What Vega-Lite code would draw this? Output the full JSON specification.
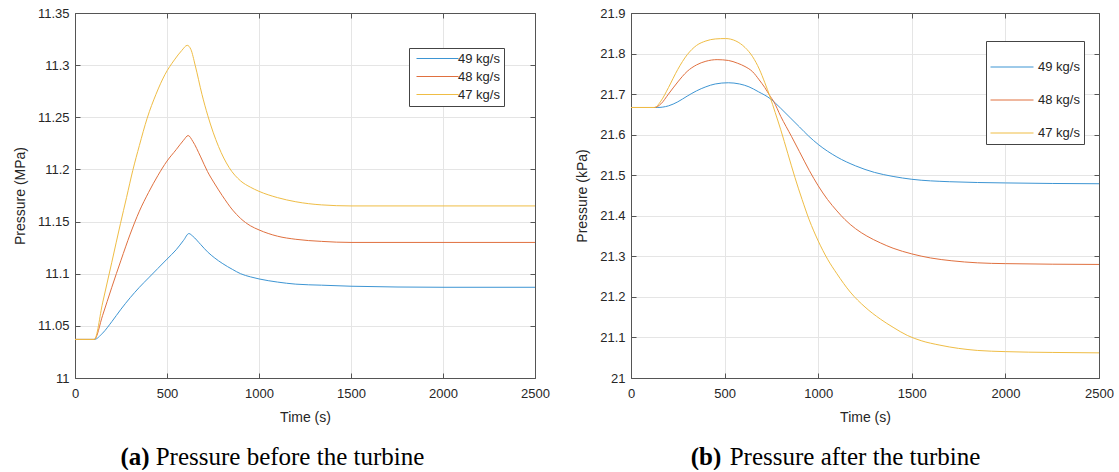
{
  "$schema": "https://vega.github.io/schema/vega-lite/v6.json",
  "padding": {"left": 13, "top": 7, "right": 0, "bottom": 0},
  "config": {
    "font": "Liberation Sans",
    "view": {"stroke": null},
    "axis": {
      "labelFont": "Liberation Sans", "labelFontSize": 13, "labelColor": "#262626",
      "titleFont": "Liberation Sans", "titleFontSize": 14, "titleFontWeight": "normal", "titleColor": "#262626",
      "domainColor": "#555555", "tickColor": "#555555", "tickSize": -5,
      "gridColor": "#e5e5e5", "labelFlush": false, "labelOverlap": false
    },
    "legend": {"labelFont": "Liberation Sans", "labelFontSize": 13, "labelColor": "#262626"}
  },
  "datasets": {
    "before": [
      {"t":0,"p":11.037,"s":"49 kg/s"},{"t":105,"p":11.037,"s":"49 kg/s"},{"t":150,"p":11.043,"s":"49 kg/s"},{"t":200,"p":11.054,"s":"49 kg/s"},{"t":250,"p":11.066,"s":"49 kg/s"},{"t":300,"p":11.077,"s":"49 kg/s"},{"t":350,"p":11.087,"s":"49 kg/s"},{"t":400,"p":11.096,"s":"49 kg/s"},{"t":450,"p":11.105,"s":"49 kg/s"},{"t":500,"p":11.114,"s":"49 kg/s"},{"t":550,"p":11.123,"s":"49 kg/s"},{"t":590,"p":11.132,"s":"49 kg/s"},{"t":619,"p":11.1385,"s":"49 kg/s"},{"t":640,"p":11.136,"s":"49 kg/s"},{"t":683,"p":11.128,"s":"49 kg/s"},{"t":720,"p":11.121,"s":"49 kg/s"},{"t":760,"p":11.115,"s":"49 kg/s"},{"t":800,"p":11.110,"s":"49 kg/s"},{"t":857,"p":11.104,"s":"49 kg/s"},{"t":900,"p":11.100,"s":"49 kg/s"},{"t":953,"p":11.097,"s":"49 kg/s"},{"t":1000,"p":11.095,"s":"49 kg/s"},{"t":1100,"p":11.092,"s":"49 kg/s"},{"t":1200,"p":11.090,"s":"49 kg/s"},{"t":1340,"p":11.089,"s":"49 kg/s"},{"t":1500,"p":11.088,"s":"49 kg/s"},{"t":2000,"p":11.087,"s":"49 kg/s"},{"t":2500,"p":11.087,"s":"49 kg/s"},
      {"t":0,"p":11.037,"s":"48 kg/s"},{"t":105,"p":11.037,"s":"48 kg/s"},{"t":150,"p":11.060,"s":"48 kg/s"},{"t":200,"p":11.087,"s":"48 kg/s"},{"t":250,"p":11.113,"s":"48 kg/s"},{"t":300,"p":11.138,"s":"48 kg/s"},{"t":350,"p":11.160,"s":"48 kg/s"},{"t":400,"p":11.178,"s":"48 kg/s"},{"t":450,"p":11.194,"s":"48 kg/s"},{"t":500,"p":11.208,"s":"48 kg/s"},{"t":550,"p":11.219,"s":"48 kg/s"},{"t":590,"p":11.228,"s":"48 kg/s"},{"t":615,"p":11.2325,"s":"48 kg/s"},{"t":640,"p":11.227,"s":"48 kg/s"},{"t":683,"p":11.212,"s":"48 kg/s"},{"t":720,"p":11.198,"s":"48 kg/s"},{"t":760,"p":11.186,"s":"48 kg/s"},{"t":800,"p":11.175,"s":"48 kg/s"},{"t":857,"p":11.161,"s":"48 kg/s"},{"t":900,"p":11.153,"s":"48 kg/s"},{"t":953,"p":11.146,"s":"48 kg/s"},{"t":1000,"p":11.142,"s":"48 kg/s"},{"t":1100,"p":11.136,"s":"48 kg/s"},{"t":1200,"p":11.133,"s":"48 kg/s"},{"t":1340,"p":11.131,"s":"48 kg/s"},{"t":1500,"p":11.130,"s":"48 kg/s"},{"t":2000,"p":11.130,"s":"48 kg/s"},{"t":2500,"p":11.130,"s":"48 kg/s"},
      {"t":0,"p":11.037,"s":"47 kg/s"},{"t":105,"p":11.037,"s":"47 kg/s"},{"t":150,"p":11.072,"s":"47 kg/s"},{"t":200,"p":11.111,"s":"47 kg/s"},{"t":247,"p":11.148,"s":"47 kg/s"},{"t":280,"p":11.173,"s":"47 kg/s"},{"t":314,"p":11.199,"s":"47 kg/s"},{"t":350,"p":11.223,"s":"47 kg/s"},{"t":392,"p":11.249,"s":"47 kg/s"},{"t":440,"p":11.272,"s":"47 kg/s"},{"t":489,"p":11.291,"s":"47 kg/s"},{"t":540,"p":11.305,"s":"47 kg/s"},{"t":580,"p":11.314,"s":"47 kg/s"},{"t":610,"p":11.319,"s":"47 kg/s"},{"t":630,"p":11.315,"s":"47 kg/s"},{"t":653,"p":11.300,"s":"47 kg/s"},{"t":690,"p":11.272,"s":"47 kg/s"},{"t":721,"p":11.252,"s":"47 kg/s"},{"t":780,"p":11.222,"s":"47 kg/s"},{"t":837,"p":11.202,"s":"47 kg/s"},{"t":900,"p":11.189,"s":"47 kg/s"},{"t":953,"p":11.183,"s":"47 kg/s"},{"t":1000,"p":11.179,"s":"47 kg/s"},{"t":1100,"p":11.173,"s":"47 kg/s"},{"t":1200,"p":11.169,"s":"47 kg/s"},{"t":1340,"p":11.166,"s":"47 kg/s"},{"t":1500,"p":11.165,"s":"47 kg/s"},{"t":2000,"p":11.165,"s":"47 kg/s"},{"t":2500,"p":11.165,"s":"47 kg/s"}
    ],
    "after": [
      {"t":0,"p":21.667,"s":"49 kg/s"},{"t":140,"p":21.667,"s":"49 kg/s"},{"t":200,"p":21.671,"s":"49 kg/s"},{"t":250,"p":21.681,"s":"49 kg/s"},{"t":300,"p":21.695,"s":"49 kg/s"},{"t":350,"p":21.708,"s":"49 kg/s"},{"t":400,"p":21.718,"s":"49 kg/s"},{"t":450,"p":21.725,"s":"49 kg/s"},{"t":520,"p":21.728,"s":"49 kg/s"},{"t":580,"p":21.725,"s":"49 kg/s"},{"t":630,"p":21.718,"s":"49 kg/s"},{"t":680,"p":21.706,"s":"49 kg/s"},{"t":743,"p":21.689,"s":"49 kg/s"},{"t":800,"p":21.665,"s":"49 kg/s"},{"t":850,"p":21.642,"s":"49 kg/s"},{"t":900,"p":21.619,"s":"49 kg/s"},{"t":950,"p":21.596,"s":"49 kg/s"},{"t":1000,"p":21.576,"s":"49 kg/s"},{"t":1100,"p":21.545,"s":"49 kg/s"},{"t":1200,"p":21.523,"s":"49 kg/s"},{"t":1300,"p":21.507,"s":"49 kg/s"},{"t":1400,"p":21.497,"s":"49 kg/s"},{"t":1500,"p":21.490,"s":"49 kg/s"},{"t":1700,"p":21.484,"s":"49 kg/s"},{"t":2000,"p":21.481,"s":"49 kg/s"},{"t":2500,"p":21.479,"s":"49 kg/s"},
      {"t":0,"p":21.667,"s":"48 kg/s"},{"t":125,"p":21.667,"s":"48 kg/s"},{"t":160,"p":21.676,"s":"48 kg/s"},{"t":200,"p":21.700,"s":"48 kg/s"},{"t":250,"p":21.730,"s":"48 kg/s"},{"t":300,"p":21.756,"s":"48 kg/s"},{"t":350,"p":21.772,"s":"48 kg/s"},{"t":400,"p":21.781,"s":"48 kg/s"},{"t":460,"p":21.785,"s":"48 kg/s"},{"t":520,"p":21.783,"s":"48 kg/s"},{"t":570,"p":21.776,"s":"48 kg/s"},{"t":609,"p":21.768,"s":"48 kg/s"},{"t":650,"p":21.755,"s":"48 kg/s"},{"t":685,"p":21.735,"s":"48 kg/s"},{"t":715,"p":21.716,"s":"48 kg/s"},{"t":743,"p":21.695,"s":"48 kg/s"},{"t":762,"p":21.682,"s":"48 kg/s"},{"t":800,"p":21.645,"s":"48 kg/s"},{"t":857,"p":21.596,"s":"48 kg/s"},{"t":900,"p":21.558,"s":"48 kg/s"},{"t":952,"p":21.512,"s":"48 kg/s"},{"t":1000,"p":21.474,"s":"48 kg/s"},{"t":1050,"p":21.440,"s":"48 kg/s"},{"t":1100,"p":21.412,"s":"48 kg/s"},{"t":1142,"p":21.391,"s":"48 kg/s"},{"t":1200,"p":21.368,"s":"48 kg/s"},{"t":1260,"p":21.350,"s":"48 kg/s"},{"t":1333,"p":21.333,"s":"48 kg/s"},{"t":1400,"p":21.320,"s":"48 kg/s"},{"t":1500,"p":21.306,"s":"48 kg/s"},{"t":1600,"p":21.296,"s":"48 kg/s"},{"t":1714,"p":21.289,"s":"48 kg/s"},{"t":1850,"p":21.284,"s":"48 kg/s"},{"t":2000,"p":21.282,"s":"48 kg/s"},{"t":2500,"p":21.280,"s":"48 kg/s"},
      {"t":0,"p":21.667,"s":"47 kg/s"},{"t":125,"p":21.667,"s":"47 kg/s"},{"t":160,"p":21.683,"s":"47 kg/s"},{"t":200,"p":21.716,"s":"47 kg/s"},{"t":250,"p":21.761,"s":"47 kg/s"},{"t":300,"p":21.797,"s":"47 kg/s"},{"t":350,"p":21.820,"s":"47 kg/s"},{"t":400,"p":21.831,"s":"47 kg/s"},{"t":450,"p":21.836,"s":"47 kg/s"},{"t":505,"p":21.837,"s":"47 kg/s"},{"t":560,"p":21.831,"s":"47 kg/s"},{"t":609,"p":21.815,"s":"47 kg/s"},{"t":650,"p":21.792,"s":"47 kg/s"},{"t":685,"p":21.762,"s":"47 kg/s"},{"t":715,"p":21.728,"s":"47 kg/s"},{"t":743,"p":21.693,"s":"47 kg/s"},{"t":770,"p":21.655,"s":"47 kg/s"},{"t":800,"p":21.612,"s":"47 kg/s"},{"t":838,"p":21.553,"s":"47 kg/s"},{"t":876,"p":21.494,"s":"47 kg/s"},{"t":914,"p":21.440,"s":"47 kg/s"},{"t":952,"p":21.390,"s":"47 kg/s"},{"t":1000,"p":21.338,"s":"47 kg/s"},{"t":1050,"p":21.293,"s":"47 kg/s"},{"t":1100,"p":21.257,"s":"47 kg/s"},{"t":1171,"p":21.212,"s":"47 kg/s"},{"t":1250,"p":21.175,"s":"47 kg/s"},{"t":1333,"p":21.145,"s":"47 kg/s"},{"t":1400,"p":21.125,"s":"47 kg/s"},{"t":1476,"p":21.105,"s":"47 kg/s"},{"t":1550,"p":21.092,"s":"47 kg/s"},{"t":1650,"p":21.081,"s":"47 kg/s"},{"t":1750,"p":21.073,"s":"47 kg/s"},{"t":1850,"p":21.068,"s":"47 kg/s"},{"t":2000,"p":21.065,"s":"47 kg/s"},{"t":2250,"p":21.063,"s":"47 kg/s"},{"t":2500,"p":21.062,"s":"47 kg/s"}
    ]
  },
  "spacing": 25,
  "resolve": {"scale": {"color": "independent"}, "legend": {"color": "independent"}},
  "hconcat": [
    {
      "title": {"text": "(a)", "orient": "bottom", "font": "Liberation Serif", "fontSize": 25, "fontWeight": "bold", "color": "black", "anchor": "start", "frame": "bounds", "dx": 107, "dy": -5, "offset": 0, "baseline": "alphabetic"},
      "vconcat": [
        {
          "width": 460, "height": 365,
          "title": {"text": "Pressure before the turbine", "orient": "bottom", "font": "Liberation Serif", "fontSize": 25, "fontWeight": "normal", "color": "black", "anchor": "middle", "frame": "group", "dx": -15, "offset": 41, "baseline": "alphabetic"},
          "data": {"name": "before"},
          "layer": [
            {
              "mark": {"type": "line", "strokeWidth": 1, "interpolate": "monotone"},
              "encoding": {
                "x": {"field": "t", "type": "quantitative", "scale": {"domain": [0, 2500], "nice": false}, "axis": {"orient": "bottom", "values": [0, 500, 1000, 1500, 2000, 2500], "format": "d", "title": "Time (s)", "labelPadding": 14, "titlePadding": 10, "grid": true}},
                "y": {"field": "p", "type": "quantitative", "scale": {"domain": [11, 11.35], "nice": false, "zero": false}, "axis": {"orient": "left", "values": [11, 11.05, 11.1, 11.15, 11.2, 11.25, 11.3, 11.35], "format": "~g", "title": "Pressure (MPa)", "labelPadding": 11, "titlePadding": 10, "grid": true}},
                "color": {"field": "s", "type": "nominal", "scale": {"domain": ["49 kg/s", "48 kg/s", "47 kg/s"], "range": ["#3d95d3", "#e0703f", "#efbd45"]},
                  "legend": {"orient": "none", "legendX": 334, "legendY": 35, "title": null, "symbolType": "M-10,0H10", "symbolSize": 17.64, "symbolOffset": 18, "symbolStrokeWidth": 1, "labelOffset": 14, "strokeColor": "#444444", "fillColor": "white", "padding": 4, "rowPadding": 4, "cornerRadius": 0}}
              }
            },
            {
              "mark": {"type": "point", "opacity": 0},
              "encoding": {
                "x": {"field": "t", "type": "quantitative", "scale": {"domain": [0, 2500], "nice": false}, "axis": {"orient": "top", "values": [0, 500, 1000, 1500, 2000, 2500], "labels": false, "title": null, "grid": false}},
                "y": {"field": "p", "type": "quantitative", "scale": {"domain": [11, 11.35], "nice": false, "zero": false}, "axis": {"orient": "right", "values": [11, 11.05, 11.1, 11.15, 11.2, 11.25, 11.3, 11.35], "labels": false, "title": null, "grid": false}}
              }
            }
          ],
          "resolve": {"axis": {"x": "independent", "y": "independent"}}
        }
      ]
    },
    {
      "title": {"text": "(b)", "orient": "bottom", "font": "Liberation Serif", "fontSize": 25, "fontWeight": "bold", "color": "black", "anchor": "start", "frame": "bounds", "dx": 115, "dy": -5, "offset": 0, "baseline": "alphabetic"},
      "vconcat": [
        {
          "width": 468, "height": 365,
          "title": {"text": "Pressure after the turbine", "orient": "bottom", "font": "Liberation Serif", "fontSize": 25, "fontWeight": "normal", "color": "black", "anchor": "middle", "frame": "group", "dx": -10, "offset": 41, "baseline": "alphabetic"},
          "data": {"name": "after"},
          "layer": [
            {
              "mark": {"type": "line", "strokeWidth": 1, "interpolate": "monotone"},
              "encoding": {
                "x": {"field": "t", "type": "quantitative", "scale": {"domain": [0, 2500], "nice": false}, "axis": {"orient": "bottom", "values": [0, 500, 1000, 1500, 2000, 2500], "format": "d", "title": "Time (s)", "labelPadding": 14, "titlePadding": 10, "grid": true}},
                "y": {"field": "p", "type": "quantitative", "scale": {"domain": [21, 21.9], "nice": false, "zero": false}, "axis": {"orient": "left", "values": [21, 21.1, 21.2, 21.3, 21.4, 21.5, 21.6, 21.7, 21.8, 21.9], "format": "~g", "title": "Pressure (kPa)", "labelPadding": 11, "titlePadding": 10, "grid": true}},
                "color": {"field": "s", "type": "nominal", "scale": {"domain": ["49 kg/s", "48 kg/s", "47 kg/s"], "range": ["#3d95d3", "#e0703f", "#efbd45"]},
                  "legend": {"orient": "none", "legendX": 355, "legendY": 28, "title": null, "symbolType": "stroke", "symbolSize": 1849, "symbolStrokeWidth": 1, "labelOffset": 4, "strokeColor": "#444444", "fillColor": "white", "padding": 4, "rowPadding": 4, "cornerRadius": 0}}
              }
            },
            {
              "mark": {"type": "point", "opacity": 0},
              "encoding": {
                "x": {"field": "t", "type": "quantitative", "scale": {"domain": [0, 2500], "nice": false}, "axis": {"orient": "top", "values": [0, 500, 1000, 1500, 2000, 2500], "labels": false, "title": null, "grid": false}},
                "y": {"field": "p", "type": "quantitative", "scale": {"domain": [21, 21.9], "nice": false, "zero": false}, "axis": {"orient": "right", "values": [21, 21.1, 21.2, 21.3, 21.4, 21.5, 21.6, 21.7, 21.8, 21.9], "labels": false, "title": null, "grid": false}}
              }
            }
          ],
          "resolve": {"axis": {"x": "independent", "y": "independent"}}
        }
      ]
    }
  ]
}
